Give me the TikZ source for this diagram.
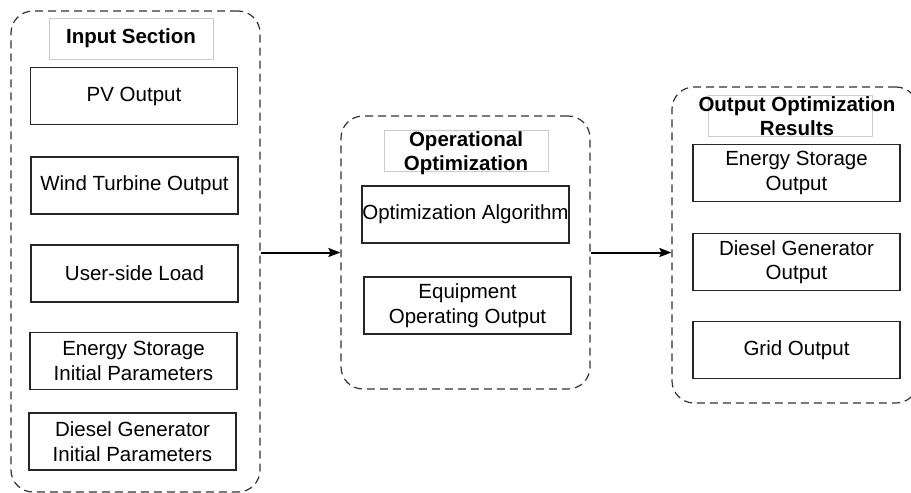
\documentclass[tikz,border=0pt]{standalone}
\usepackage{fontspec}
\setmainfont{Liberation Sans}
\usepackage{tikz}
\usetikzlibrary{arrows.meta}
\usetikzlibrary{positioning}

\begin{document}
\begin{tikzpicture}[
    x = 1pt,
    y = -1pt,
    font = \fontsize{20.5}{24.5}\selectfont]
    \tikzstyle{groupbox}=[draw=black!80,rectangle,rounded corners=22pt,line width=1.2pt,dash pattern=on 8pt off 5pt]
    \tikzstyle{titlebox}=[draw=black!20,fill=white,rectangle,line width=0.8pt,minimum width=164pt,minimum height=41pt]
    \tikzstyle{titletext}=[font=\fontsize{20.5}{24.5}\selectfont\bfseries,align=center,inner sep=0pt]
    \tikzstyle{itembox}=[draw=black!85,rectangle,line width=1.4pt,align=center,minimum width=207pt,minimum height=57pt,inner sep=0pt]
    \tikzstyle{flow}=[line width=2pt,-{Stealth[length=12pt,width=9pt,inset=2pt]},black]
    \useasboundingbox (0,0) rectangle (911,493) ;
    % input section
    \node[groupbox,minimum width=249pt,minimum height=481pt] (inp) at (135.5,251.5) {} ;
    \node[titlebox] (inpbox) at (131,38.5) {} ;
    \node[titletext] (inptitle) at (inpbox) {Input Section} ;
    \node[itembox] (pv) at (134,96) {PV Output} ;
    \node[itembox] (wind) at (134.5,185.5) {Wind Turbine Output} ;
    \node[itembox] (load) at (134.5,273.5) {User-side Load} ;
    \node[itembox] (esinit) at (133.5,361) {Energy Storage\\Initial Parameters} ;
    \node[itembox] (dginit) at (132.5,441.5) {Diesel Generator\\Initial Parameters} ;
    % operational optimization
    \node[groupbox,minimum width=249pt,minimum height=273pt] (opt) at (465.5,252.5) {} ;
    \node[titlebox] (optbox) at (466,151) {} ;
    \node[titletext] (opttitle) at (466,153) {Operational\\Optimization} ;
    \node[itembox] (alg) at (465.5,214.5) {Optimization Algorithm} ;
    \node[itembox] (equip) at (467.5,305.5) {Equipment\\Operating Output} ;
    % output results
    \node[groupbox,minimum width=246pt,minimum height=316pt] (out) at (795,245) {} ;
    \node[titlebox] (outbox) at (790,116) {} ;
    \node[titletext] (outtitle) at (797,116) {Output Optimization\\Results} ;
    \node[itembox] (esout) at (796.5,173) {Energy Storage\\Output} ;
    \node[itembox] (dgout) at (796.5,262) {Diesel Generator\\Output} ;
    \node[itembox] (grid) at (796.5,350) {Grid Output} ;
    \draw[flow] (inp.east |- opt.west) -- (opt.west) ;
    \draw[flow] (opt.east) -- (opt.east -| out.west) ;
\end{tikzpicture}
\end{document}
